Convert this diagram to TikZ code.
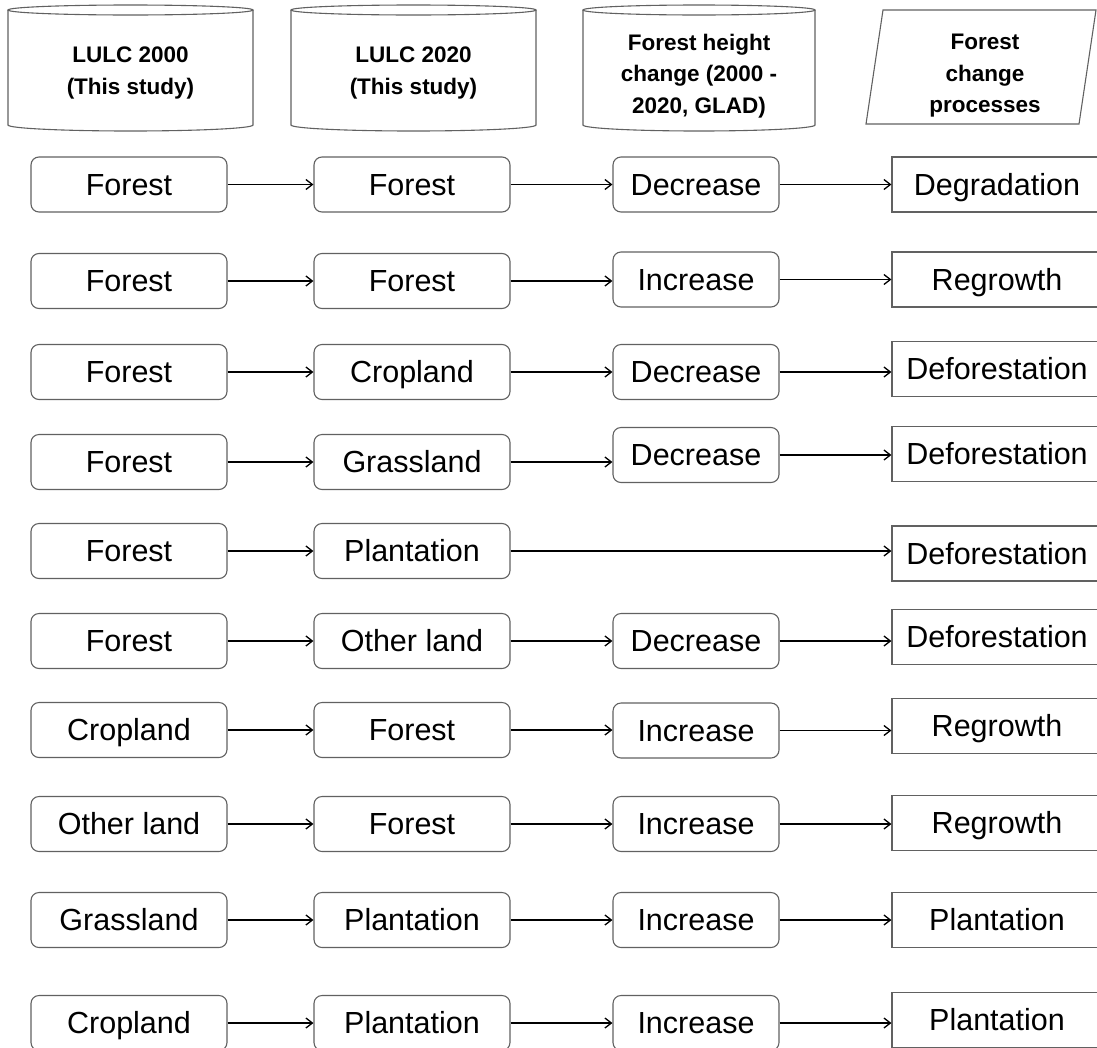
\documentclass[tikz,border=0pt]{standalone}
\usepackage{fontspec}
\setmainfont{Liberation Sans}
\usetikzlibrary{arrows.meta}
\tikzset{
  box/.style={draw=black!62, line width=1.1pt, rounded corners=8pt, minimum height=55pt,
    inner sep=0pt, text height=24pt, text depth=3pt, font=\fontsize{30.5}{36}\selectfont},
  wA/.style={box, minimum width=196pt},
  wC/.style={box, minimum width=166pt},
  proc/.style={box, rounded corners=0pt, minimum width=210pt},
  link/.style={line width=1.5pt, -{Straight Barb[length=6.5pt,width=10pt,line width=1.3pt]}},
  hdr/.style={font=\bfseries\fontsize{22.5}{31.5}\selectfont, align=center, inner sep=0pt},
  cyl/.style={draw=black!62, line width=1.1pt}
}
\begin{document}
\begin{tikzpicture}[x=1pt,y=-1pt]
\useasboundingbox (0,0) rectangle (1097,1047);
\clip (0,0) rectangle (1097,1047);
% header shapes
\foreach \cx/\rx in {130.5/122.5, 413.5/122.5, 699/116}{
  \draw[cyl] (\cx-\rx,10) -- (\cx-\rx,125) arc[start angle=180, end angle=0, x radius=\rx, y radius=6] -- (\cx+\rx,10);
  \draw[cyl] (\cx,10) ellipse [x radius=\rx, y radius=5];
}
\draw[cyl] (866,124) -- (883,10) -- (1096,10) -- (1079,124) -- cycle;
\node[hdr] (h1) at (130.5,73) {LULC 2000\\(This study)};
\node[hdr] (h2) at (413.5,73) {LULC 2020\\(This study)};
\node[hdr] (h3) at (699,76) {Forest height\\change (2000 -\\2020, GLAD)};
\node[hdr] (h4) at (985,76) {Forest\\change\\processes};
% row 1
\node[wA] (a1) at (129,184.5) {Forest};
\node[wA] (b1) at (412,184.5) {Forest};
\node[wC] (c1) at (696,184.5) {Decrease};
\node[proc] (d1) at (997,184.5) {Degradation};
% row 2
\node[wA] (a2) at (129,281) {Forest};
\node[wA] (b2) at (412,281) {Forest};
\node[wC] (c2) at (696,279.5) {Increase};
\node[proc] (d2) at (997,279.5) {Regrowth};
% row 3
\node[wA] (a3) at (129,372) {Forest};
\node[wA] (b3) at (412,372) {Cropland};
\node[wC] (c3) at (696,372) {Decrease};
\node[proc] (d3) at (997,369) {Deforestation};
% row 4
\node[wA] (a4) at (129,462) {Forest};
\node[wA] (b4) at (412,462) {Grassland};
\node[wC] (c4) at (696,455) {Decrease};
\node[proc] (d4) at (997,454) {Deforestation};
% row 5
\node[wA] (a5) at (129,551) {Forest};
\node[wA] (b5) at (412,551) {Plantation};
\node[proc] (d5) at (997,553.5) {Deforestation};
% row 6
\node[wA] (a6) at (129,641) {Forest};
\node[wA] (b6) at (412,641) {Other land};
\node[wC] (c6) at (696,641) {Decrease};
\node[proc] (d6) at (997,637) {Deforestation};
% row 7
\node[wA] (a7) at (129,730) {Cropland};
\node[wA] (b7) at (412,730) {Forest};
\node[wC] (c7) at (696,730.5) {Increase};
\node[proc] (d7) at (997,726) {Regrowth};
% row 8
\node[wA] (a8) at (129,824) {Other land};
\node[wA] (b8) at (412,824) {Forest};
\node[wC] (c8) at (696,824) {Increase};
\node[proc] (d8) at (997,823) {Regrowth};
% row 9
\node[wA] (a9) at (129,920) {Grassland};
\node[wA] (b9) at (412,920) {Plantation};
\node[wC] (c9) at (696,920) {Increase};
\node[proc] (d9) at (997,920) {Plantation};
% row 10
\node[wA] (a10) at (129,1023) {Cropland};
\node[wA] (b10) at (412,1023) {Plantation};
\node[wC] (c10) at (696,1023) {Increase};
\node[proc] (d10) at (997,1020) {Plantation};
% connectors
\foreach \i in {1,2,3,4,6,7,8,9,10}{
  \draw[link] (a\i.east) -- (a\i.east -| b\i.west);
  \draw[link] (b\i.east) -- (b\i.east -| c\i.west);
  \draw[link] (c\i.east) -- (c\i.east -| d\i.west);
}
\draw[link] (a5.east) -- (a5.east -| b5.west);
\draw[link] (b5.east) -- (b5.east -| d5.west);
\end{tikzpicture}
\end{document}
